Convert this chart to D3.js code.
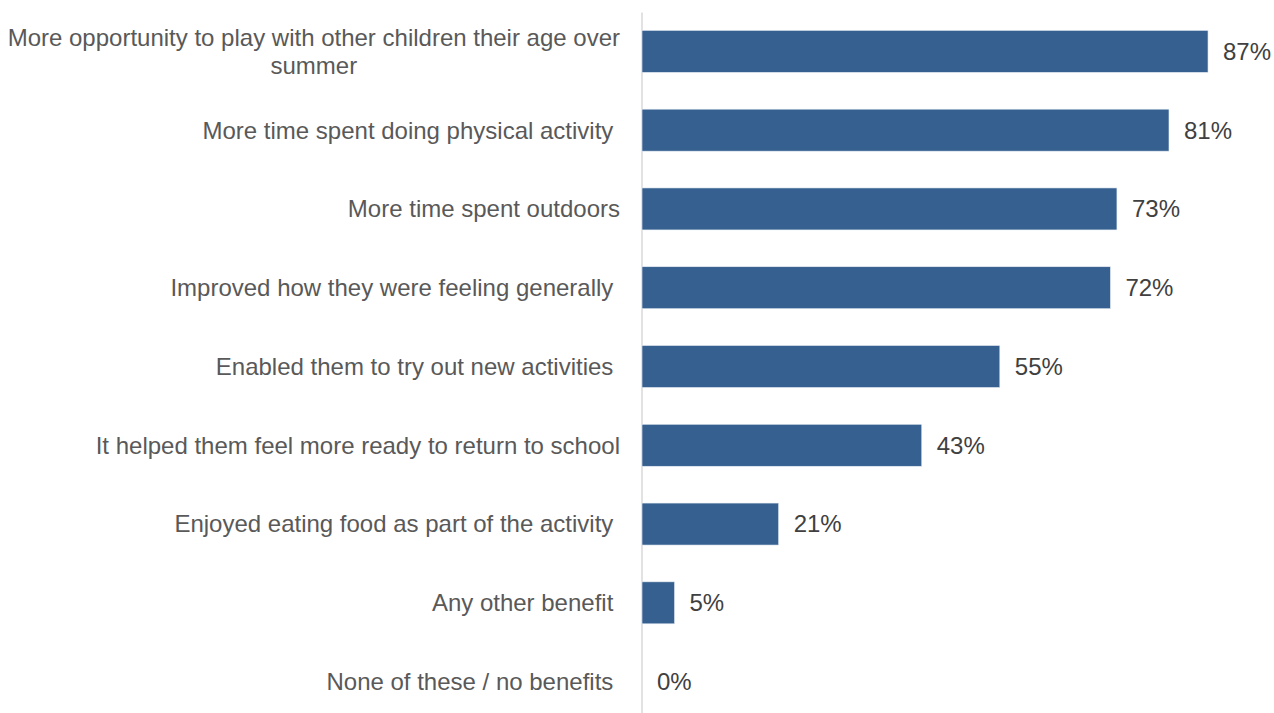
<!DOCTYPE html>
<html>
<head>
<meta charset="utf-8">
<script src="https://cdn.jsdelivr.net/npm/d3@7"></script>
<style>
  html, body { margin: 0; padding: 0; background: #ffffff; }
  svg { display: block; font-family: "Liberation Sans", Arial, sans-serif; }
</style>
</head>
<body>
<svg id="chart" width="1274" height="713"></svg>
<script>
// Benefits reported, share of respondents (%)
const categories = [
  ["More opportunity to play with other children their age over", "summer"],
  ["More time spent doing physical activity "],
  ["More time spent outdoors"],
  ["Improved how they were feeling generally "],
  ["Enabled them to try out new activities "],
  ["It helped them feel more ready to return to school"],
  ["Enjoyed eating food as part of the activity "],
  ["Any other benefit "],
  ["None of these / no benefits "]
];
const values = [87, 81, 73, 72, 55, 43, 21, 5, 0];
const valueLabels = ["87%", "81%", "73%", "72%", "55%", "43%", "21%", "5%", "0%"];

const svg = d3.select("#chart");
const keys = categories.map((c, i) => i);
const fontSize = 24;

const x = d3.scaleLinear().domain([0, 100]).range([642, 1292.6]);
const y = d3.scaleBand().domain(keys).range([12, 721])
  .paddingInner(0.467).paddingOuter(0.2335);

// Category axis line
const axis = svg.append("g")
  .attr("transform", "translate(641.5,0)")
  .call(d3.axisLeft(y).tickSize(0).tickFormat(""));
axis.select(".domain").attr("stroke", "#d9d9d9").attr("stroke-width", 1.5);

// Bars
svg.append("g").selectAll("rect")
  .data(keys.filter(i => values[i] > 0))
  .join("rect")
  .attr("x", x(0))
  .attr("y", i => y(i))
  .attr("width", i => x(values[i]) - x(0))
  .attr("height", y.bandwidth())
  .attr("fill", "#36608f")
  .attr("stroke", "#e6ecf4")
  .attr("stroke-width", 0.6);

// Value labels
svg.append("g").selectAll("text")
  .data(keys)
  .join("text")
  .attr("x", i => x(values[i]) + 15)
  .attr("y", i => y(i) + y.bandwidth() / 2)
  .attr("dy", "0.35em")
  .attr("font-size", fontSize)
  .attr("fill", "#404040")
  .text(i => valueLabels[i]);

// Category labels (right aligned; wrapped continuation centred under first line)
const lineH = 28;
const labelX = 620;
const lg = svg.append("g");
keys.forEach(i => {
  const lines = categories[i];
  const cy = y(i) + y.bandwidth() / 2;
  const y0 = cy - (lines.length - 1) * lineH / 2;
  const first = lg.append("text")
    .attr("x", labelX)
    .attr("y", y0)
    .attr("dy", "0.35em")
    .attr("text-anchor", "end")
    .attr("font-size", fontSize)
    .attr("fill", "#595959")
    .style("white-space", "pre")
    .text(lines[0]);
  if (lines.length > 1) {
    const w = first.node().getComputedTextLength();
    const centre = labelX - w / 2;
    lines.slice(1).forEach((t, k) => {
      lg.append("text")
        .attr("x", centre)
        .attr("y", y0 + (k + 1) * lineH)
        .attr("dy", "0.35em")
        .attr("text-anchor", "middle")
        .attr("font-size", fontSize)
        .attr("fill", "#595959")
        .text(t);
    });
  }
});
</script>
</body>
</html>
